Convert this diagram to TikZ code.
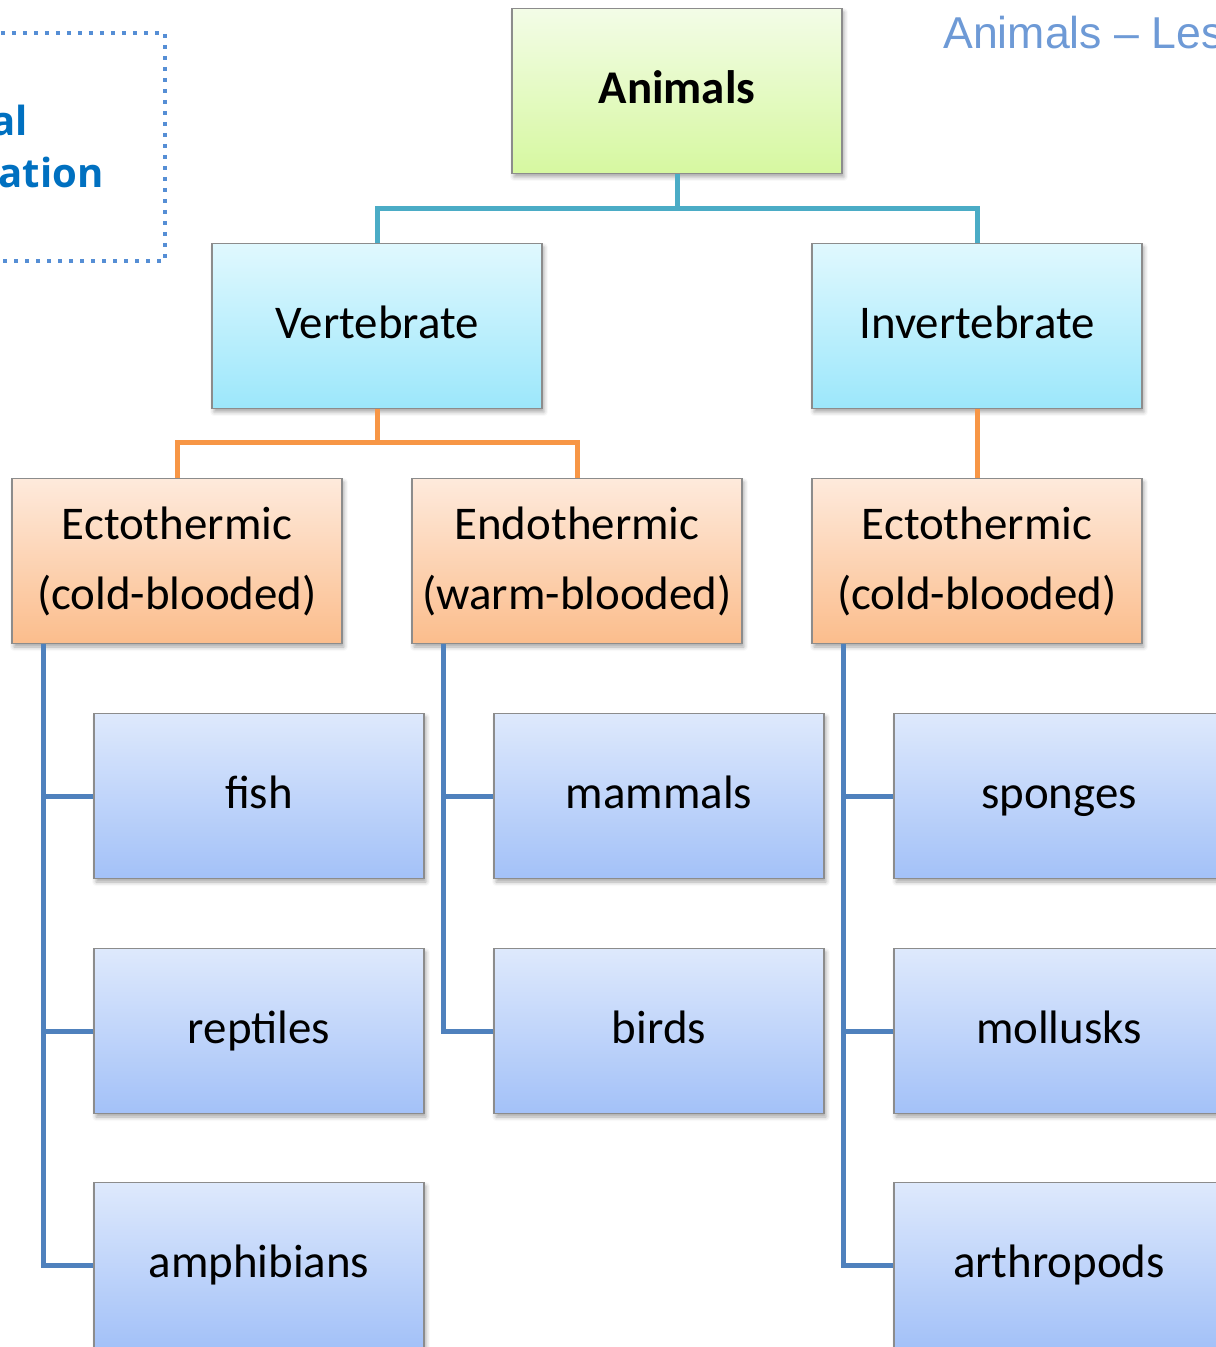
\documentclass[tikz,border=0pt]{standalone}
\usepackage{fontspec}
\setmainfont{Carlito}
\newfontfamily\titlefont{Liberation Sans}
\newfontfamily\headfont{Open Sans}
\usepackage{tikz}
\usetikzlibrary{shadows.blur}
\definecolor{boxgray}{HTML}{8C8C8C}
\definecolor{greenT}{HTML}{F3FCE7}
\definecolor{greenB}{HTML}{D6F8A0}
\definecolor{cyanT}{HTML}{E0F8FE}
\definecolor{cyanB}{HTML}{9CE7FB}
\definecolor{orangeT}{HTML}{FEEADC}
\definecolor{orangeB}{HTML}{FBBD8C}
\definecolor{blueT}{HTML}{DEE9FC}
\definecolor{blueB}{HTML}{A3C1F8}
\definecolor{tealline}{HTML}{4BACC6}
\definecolor{orangeline}{HTML}{F79646}
\definecolor{blueline}{HTML}{4F81BD}
\definecolor{dotblue}{HTML}{558ED5}
\definecolor{headblue}{HTML}{0070C0}
\definecolor{titleblue}{HTML}{6E9AD6}

\begin{document}
\begin{tikzpicture}[x=0.02cm,y=-0.02cm,
		box/.style={draw=boxgray,line width=0.03cm,minimum width=6.6cm,minimum height=3.3cm,inner sep=0pt,
			blur shadow={shadow xshift=0.04cm,shadow yshift=-0.07cm,shadow blur radius=0.08cm,shadow opacity=35},
			font=\fontsize{26.7}{39.8}\selectfont,align=center},
		one/.style={text height=0.6cm,text depth=0.12cm},
		rootbox/.style={box,one,top color=greenT,bottom color=greenB},
		groupbox/.style={box,one,top color=cyanT,bottom color=cyanB},
		tempbox/.style={box,top color=orangeT,bottom color=orangeB},
		leafbox/.style={box,one,top color=blueT,bottom color=blueB},
		tline/.style={tealline,line width=0.1cm},
		oline/.style={orangeline,line width=0.1cm},
		bline/.style={blueline,line width=0.1cm},
		dotline/.style={dotblue,line width=0.09cm,dash pattern=on 0.09cm off 0.13cm}]
			\useasboundingbox (0,0) rectangle (1216,1347);
			\draw[dotline] (-10,33) -- (165,33) -- (165,261) -- (-10,261);
			\node[anchor=base east,inner sep=0pt,text=headblue,font=\headfont\bfseries\fontsize{22.8}{27}\selectfont] (head1) at (28,135) {al};
			\node[anchor=base east,inner sep=0pt,text=headblue,font=\headfont\bfseries\fontsize{22.8}{27}\selectfont] (head2) at (104,187) {ation};
			\node[anchor=base west,inner sep=0pt,text=titleblue,font=\titlefont\fontsize{25.4}{30}\selectfont] (title) at (943,48) {Animals – Les};
			% tree
			\node[rootbox,font=\fontsize{26.7}{32}\selectfont\bfseries] (animals) at (677,91) {Animals};
			\node[groupbox] (vert) at (377,326) {Vertebrate};
			\node[groupbox] (invert) at (977,326) {Invertebrate};
			\node[tempbox] (ectoL) at (177,561) {Ectothermic\\(cold-blooded)};
			\node[tempbox] (endo) at (577,561) {Endothermic\\(warm-blooded)};
			\node[tempbox] (ectoR) at (977,561) {Ectothermic\\(cold-blooded)};
			\node[leafbox] (fish) at (259,796) {fish};
			\node[leafbox] (rept) at (259,1031) {reptiles};
			\node[leafbox] (amph) at (259,1265) {amphibians};
			\node[leafbox] (mamm) at (659,796) {mammals};
			\node[leafbox] (birds) at (659,1031) {birds};
			\node[leafbox] (spon) at (1059,796) {sponges};
			\node[leafbox] (moll) at (1059,1031) {mollusks};
			\node[leafbox] (arth) at (1059,1265) {arthropods};
			% connectors
			\draw[tline] (animals.south) -- ++(0,34) coordinate (tj) -| (vert.north);
			\draw[tline] (tj) -| (invert.north);
			\draw[oline] (vert.south) -- ++(0,33) coordinate (oj) -| (ectoL.north);
			\draw[oline] (oj) -| (endo.north);
			\draw[oline] (invert.south) -- (ectoR.north);
			\draw[bline] ([xshift=0.64cm]ectoL.south west) coordinate (l1) |- (amph.west);
			\draw[bline] (fish.west) -- (fish.west -| l1);
			\draw[bline] (rept.west) -- (rept.west -| l1);
			\draw[bline] ([xshift=0.64cm]endo.south west) coordinate (l2) |- (birds.west);
			\draw[bline] (mamm.west) -- (mamm.west -| l2);
			\draw[bline] ([xshift=0.64cm]ectoR.south west) coordinate (l3) |- (arth.west);
			\draw[bline] (spon.west) -- (spon.west -| l3);
			\draw[bline] (moll.west) -- (moll.west -| l3);
		\end{tikzpicture}
\end{document}
